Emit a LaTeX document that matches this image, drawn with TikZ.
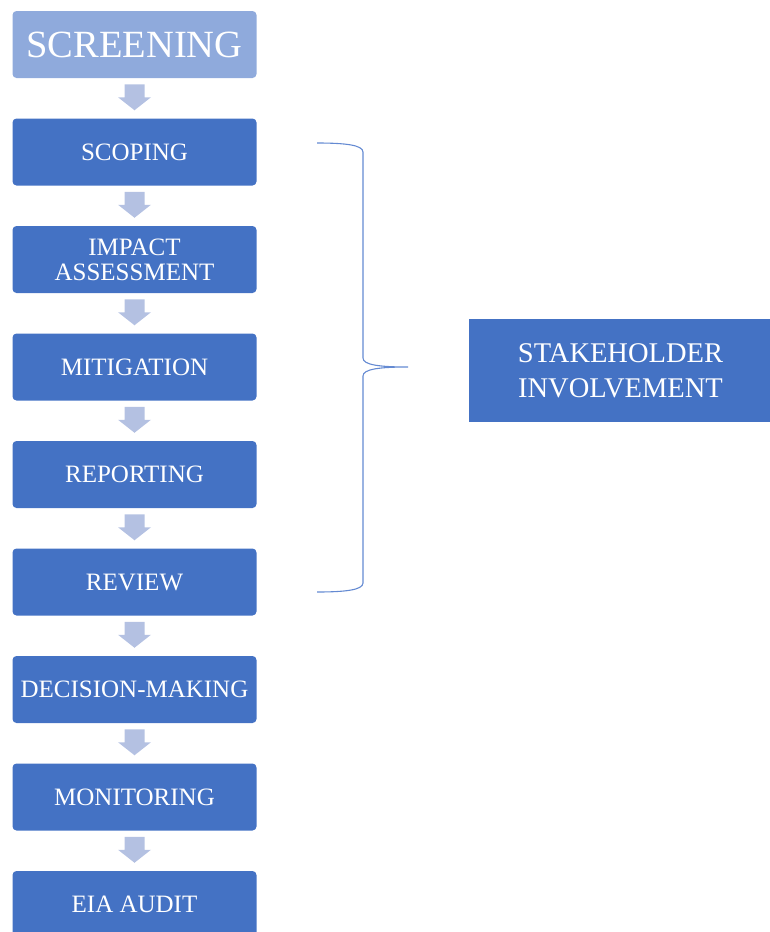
\documentclass[tikz,border=0pt]{standalone}
\usepackage{fontspec}
\setmainfont{Liberation Serif}
\usetikzlibrary{calc}
\definecolor{boxblue}{RGB}{68,114,196}
\definecolor{lightblue}{RGB}{143,170,220}
\definecolor{arrowblue}{RGB}{180,193,226}
\definecolor{bracecolor}{RGB}{100,138,210}
\begin{document}
\begin{tikzpicture}[x=1pt, y=1pt,
  stagebox/.style={fill=boxblue, text=white, rounded corners=4pt, minimum width=244pt, minimum height=67pt, inner sep=0pt, align=center, font=\fontsize{25}{25}\selectfont},
  flowarrow/.style={fill=arrowblue},
  bracestroke/.style={draw=bracecolor, line width=1.1pt}] % 1pt = 1 Pixel

\useasboundingbox (0,0) rectangle (770,-932); % Rand wie im Bild

% Kästen
\node[stagebox, fill=lightblue, font=\fontsize{38.5}{40}\selectfont] (b0) at (134.5,-44.5) {SCREENING};
\foreach \i/\txt in {1/SCOPING, 2/{IMPACT\\ASSESSMENT}, 3/MITIGATION, 4/REPORTING, 5/REVIEW, 6/DECISION-MAKING, 7/MONITORING, 8/EIA AUDIT} {
  \node[stagebox] (b\i) at (134.5,{-44.5-107.5*\i}) {\txt};
}

% Pfeile zwischen den Kästen
\foreach \i [evaluate=\i as \j using int(\i+1)] in {0,...,7} {
  \fill[flowarrow] ($(b\i.south)!0.5!(b\j.north)+(-10,14)$) -- ++(20,0) -- ++(0,-13) -- ++(6.5,0) -- ++(-16.5,-13) -- ++(-16.5,13) -- ++(6.5,0) -- cycle; % Blockpfeil
}

% Klammer
\draw[bracestroke] (317,-143) .. controls (345,-143) and (363,-145) .. (363,-152) -- (363,-358)
  .. controls (363,-365) and (380,-367) .. (408,-367)
  .. controls (380,-367) and (363,-369) .. (363,-376) -- (363,-583)
  .. controls (363,-590) and (345,-592) .. (317,-592);

% Beteiligung
\node[fill=boxblue, text=white, minimum width=303pt, minimum height=103pt, inner sep=0pt, align=center, font=\fontsize{28.5}{35}\selectfont] (stake) at (620.5,-370.5) {STAKEHOLDER\\INVOLVEMENT};

\end{tikzpicture}
\end{document}
